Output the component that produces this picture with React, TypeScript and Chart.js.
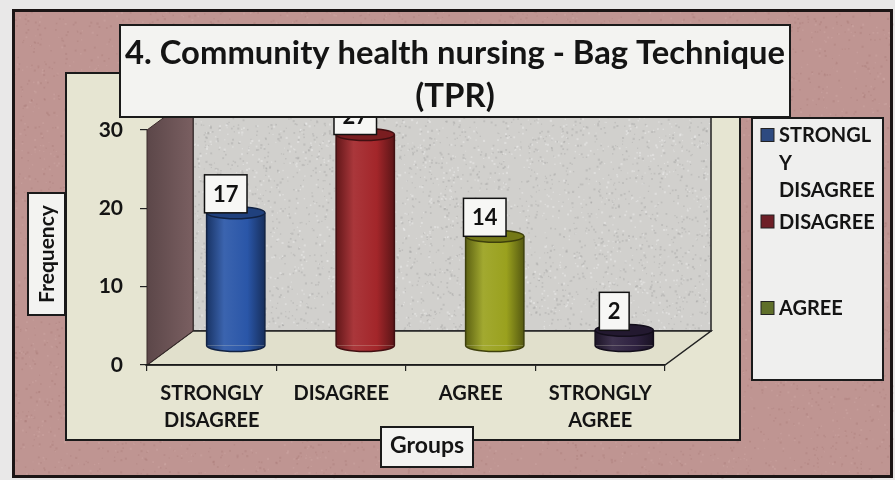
import React, { useEffect, useRef } from 'react';
import { Chart, registerables } from 'chart.js';

Chart.register(...registerables);

// ---------- data ----------
const CATEGORIES: string[][] = [['STRONGLY', 'DISAGREE'], ['DISAGREE'], ['AGREE'], ['STRONGLY', 'AGREE']];
const VALUES: number[] = [17, 27, 14, 2];
const BAR_COLORS: string[] = ['#2a56a8', '#a3262a', '#9aa11e', '#2e2140'];
const Y_MIN = 0;
const Y_MAX = 30;
const Y_STEP = 10;
const LEGEND_LABELS: string[][] = [['STRONGL', 'Y', 'DISAGREE'], ['DISAGREE'], ['AGREE']];
const LEGEND_COLORS: string[] = ['#2e4a80', '#6e1f27', '#5f6f2a'];
const TITLE_LINES: string[] = ['4. Community health nursing - Bag Technique', '(TPR)'];
const Y_TITLE = 'Frequency';
const X_TITLE = 'Groups';

const FONT = 'Lato, "Open Sans", "DejaVu Sans", sans-serif';

function shade(hex: string, f: number): string {
  const n = parseInt(hex.slice(1), 16);
  let r = (n >> 16) & 255, g = (n >> 8) & 255, b = n & 255;
  const t = f < 0 ? 0 : 255;
  const p = Math.abs(f);
  r = Math.round(r + (t - r) * p);
  g = Math.round(g + (t - g) * p);
  b = Math.round(b + (t - b) * p);
  return `rgb(${r},${g},${b})`;
}

function speckle(ctx: CanvasRenderingContext2D, x: number, y: number, w: number, h: number, n: number, color: string, seed: number) {
  let s = seed;
  const rnd = () => {
    s = (s * 1103515245 + 12345) & 0x7fffffff;
    return s / 0x7fffffff;
  };
  ctx.fillStyle = color;
  for (let i = 0; i < n; i++) {
    const px = x + rnd() * w;
    const py = y + rnd() * h;
    const sz = 1 + rnd() * 1.2;
    ctx.fillRect(px, py, sz, sz);
  }
}

const DEPTH = { x: 46, y: -34 };
const SHIFT = { x: 24, y: -19 };
const RY = 6;

const decorPlugin = {
  id: 'decor',
  beforeDraw(chart: any) {
    const { ctx, chartArea: a } = chart;
    const ys = chart.scales.y;
    const top = ys.getPixelForValue(Y_MAX);
    const bot = ys.getPixelForValue(Y_MIN);
    const L = a.left, R = a.right;
    ctx.save();
    ctx.fillStyle = '#e9e8e8';
    ctx.fillRect(0, 0, chart.width, chart.height);
    ctx.fillStyle = '#bf9592';
    ctx.fillRect(13, 10, 879, 467);
    speckle(ctx, 13, 10, 879, 467, 5000, 'rgba(160,110,108,0.25)', 7);
    speckle(ctx, 13, 10, 879, 467, 3000, 'rgba(220,185,180,0.25)', 11);
    ctx.lineWidth = 3;
    ctx.strokeStyle = '#1b1515';
    ctx.strokeRect(13.5, 10.5, 878, 466);

    // plot area box
    ctx.fillStyle = '#e6e5d2';
    ctx.fillRect(66, 73, 674, 367);
    ctx.lineWidth = 2;
    ctx.strokeStyle = '#1a1a1a';
    ctx.strokeRect(66, 73, 674, 367);

    // back wall
    ctx.fillStyle = '#d1d0cd';
    ctx.fillRect(L + DEPTH.x, top + DEPTH.y, R - L, bot - top);
    speckle(ctx, L + DEPTH.x, top + DEPTH.y, R - L, bot - top, 2500, 'rgba(150,150,150,0.3)', 3);
    speckle(ctx, L + DEPTH.x, top + DEPTH.y, R - L, bot - top, 1500, 'rgba(240,240,240,0.45)', 5);
    ctx.lineWidth = 1.5;
    ctx.strokeStyle = '#222';
    ctx.strokeRect(L + DEPTH.x, top + DEPTH.y, R - L, bot - top);

    // floor
    ctx.beginPath();
    ctx.moveTo(L, bot);
    ctx.lineTo(R, bot);
    ctx.lineTo(R + DEPTH.x, bot + DEPTH.y);
    ctx.lineTo(L + DEPTH.x, bot + DEPTH.y);
    ctx.closePath();
    ctx.fillStyle = '#e1e0cc';
    ctx.fill();
    ctx.stroke();

    // left wall
    ctx.beginPath();
    ctx.moveTo(L, bot);
    ctx.lineTo(L + DEPTH.x, bot + DEPTH.y);
    ctx.lineTo(L + DEPTH.x, top + DEPTH.y);
    ctx.lineTo(L, top);
    ctx.closePath();
    const g = ctx.createLinearGradient(L, 0, L + DEPTH.x, 0);
    g.addColorStop(0, '#5c4749');
    g.addColorStop(1, '#7a5f61');
    ctx.fillStyle = g;
    ctx.fill();
    ctx.strokeStyle = '#3a2a2a';
    ctx.lineWidth = 1;
    ctx.stroke();
    ctx.restore();
  },
  beforeDatasetsDraw(chart: any) {
    chart.ctx.save();
    chart.ctx.translate(SHIFT.x, SHIFT.y);
  },
  afterDatasetsDraw(chart: any) {
    const ctx = chart.ctx;
    const meta = chart.getDatasetMeta(0);
    meta.data.forEach((el: any, i: number) => {
      const { x, y, base, width } = el.getProps(['x', 'y', 'base', 'width'], true);
      const col = BAR_COLORS[i];
      const rx = width / 2;
      ctx.beginPath();
      ctx.ellipse(x, base, rx, RY, 0, 0, Math.PI);
      ctx.fillStyle = el.options.backgroundColor;
      ctx.fill();
      ctx.beginPath();
      ctx.ellipse(x, y, rx, RY, 0, 0, Math.PI * 2);
      ctx.fillStyle = shade(col, -0.25);
      ctx.fill();
      ctx.strokeStyle = shade(col, -0.6);
      ctx.lineWidth = 1.5;
      ctx.beginPath();
      ctx.moveTo(x - rx, y);
      ctx.lineTo(x - rx, base);
      ctx.ellipse(x, base, rx, RY, 0, Math.PI, 0, true);
      ctx.lineTo(x + rx, y);
      ctx.stroke();
      ctx.beginPath();
      ctx.ellipse(x, y, rx, RY, 0, 0, Math.PI * 2);
      ctx.stroke();

      const txt = String(VALUES[i]);
      ctx.font = `bold 22px ${FONT}`;
      const tw = ctx.measureText(txt).width;
      const bw = Math.max(29, tw + 17);
      const bh = 38;
      const bx = x - 10 - bw / 2;
      const by = y - bh;
      ctx.fillStyle = '#f7f7f5';
      ctx.fillRect(bx, by, bw, bh);
      ctx.strokeStyle = '#111';
      ctx.lineWidth = 1.5;
      ctx.strokeRect(bx, by, bw, bh);
      ctx.fillStyle = '#111';
      ctx.textAlign = 'center';
      ctx.textBaseline = 'middle';
      ctx.fillText(txt, x - 10, by + bh / 2 + 1);
    });
    ctx.restore();
  },
  afterDraw(chart: any) {
    const ctx = chart.ctx;
    ctx.save();
    ctx.fillStyle = '#f3f3f1';
    ctx.fillRect(120, 25, 670, 92);
    ctx.lineWidth = 2;
    ctx.strokeStyle = '#1a1a1a';
    ctx.strokeRect(120, 25, 670, 92);
    ctx.fillStyle = '#141414';
    ctx.textAlign = 'center';
    ctx.textBaseline = 'alphabetic';
    ctx.font = `bold 33px ${FONT}`;
    ctx.fillText(TITLE_LINES[0], 455, 64, 660);
    ctx.fillText(TITLE_LINES[1], 455, 107, 660);

    ctx.fillStyle = '#efefee';
    ctx.fillRect(752, 118, 131, 262);
    ctx.strokeRect(752, 118, 131, 262);
    ctx.font = `bold 20px ${FONT}`;
    ctx.textAlign = 'left';
    ctx.textBaseline = 'middle';
    LEGEND_LABELS.forEach((lines, i) => {
      const y0 = 135 + i * 86.5;
      ctx.fillStyle = LEGEND_COLORS[i];
      ctx.fillRect(761, y0 - 6.5, 13, 13);
      ctx.strokeStyle = '#222';
      ctx.lineWidth = 1;
      ctx.strokeRect(761, y0 - 6.5, 13, 13);
      ctx.fillStyle = '#141414';
      lines.forEach((ln, j) => {
        ctx.fillText(ln, 779, y0 + j * 27.5 + 1, 97);
      });
    });

    ctx.fillStyle = '#f3f3f1';
    ctx.fillRect(28, 193, 37, 122);
    ctx.lineWidth = 2;
    ctx.strokeStyle = '#1a1a1a';
    ctx.strokeRect(28, 193, 37, 122);
    ctx.save();
    ctx.translate(47, 254);
    ctx.rotate(-Math.PI / 2);
    ctx.fillStyle = '#141414';
    ctx.textAlign = 'center';
    ctx.textBaseline = 'middle';
    ctx.font = `bold 21px ${FONT}`;
    ctx.fillText(Y_TITLE, 0, 0);
    ctx.restore();

    ctx.fillStyle = '#f3f3f1';
    ctx.fillRect(381, 427, 92, 40);
    ctx.strokeRect(381, 427, 92, 40);
    ctx.fillStyle = '#141414';
    ctx.textAlign = 'center';
    ctx.textBaseline = 'middle';
    ctx.font = `bold 23px ${FONT}`;
    ctx.fillText(X_TITLE, 427, 446);
    ctx.restore();
  },
};

export default function App() {
  const ref = useRef<HTMLCanvasElement | null>(null);
  useEffect(() => {
    if (!ref.current) return;
    const chart = new Chart(ref.current, {
      type: 'bar',
      data: {
        labels: CATEGORIES as any,
        datasets: [
          {
            data: VALUES,
            categoryPercentage: 1,
            barPercentage: 0.45,
            borderWidth: 0,
            clip: false as any,
            backgroundColor: (c: any) => {
              const i = c.dataIndex;
              const col = BAR_COLORS[i] || BAR_COLORS[0];
              const chart = c.chart;
              const xs = chart.scales && chart.scales.x;
              if (i === undefined || !chart.chartArea || !xs) return col;
              const cx = xs.getPixelForValue(i);
              const w = (xs.width / CATEGORIES.length) * 0.45;
              const g = chart.ctx.createLinearGradient(cx - w / 2, 0, cx + w / 2, 0);
              g.addColorStop(0, shade(col, -0.4));
              g.addColorStop(0.3, shade(col, 0.08));
              g.addColorStop(0.7, col);
              g.addColorStop(1, shade(col, -0.45));
              return g;
            },
          },
        ],
      },
      options: {
        animation: false,
        responsive: false,
        devicePixelRatio: 1,
        layout: { autoPadding: false, padding: { left: 0, top: 130, right: 230, bottom: 0 } },
        plugins: {
          legend: { display: false },
          title: { display: false },
          tooltip: { enabled: false },
        },
        scales: {
          x: {
            afterFit: (s: any) => {
              s.height = 115;
            },
            grid: { drawOnChartArea: false, offset: true, tickLength: 6, color: '#222', lineWidth: 1.2 },
            border: { display: true, color: '#1a1a1a', width: 1.5 },
            ticks: {
              autoSkip: false,
              maxRotation: 0,
              padding: 9,
              color: '#141414',
              font: { family: FONT, size: 20, weight: 'bold', lineHeight: 1.35 },
            },
          },
          y: {
            min: Y_MIN,
            max: Y_MAX,
            afterFit: (s: any) => {
              s.width = 147;
            },
            grid: { drawOnChartArea: false, tickLength: 7, color: '#222', lineWidth: 1.2 },
            border: { display: false },
            ticks: {
              stepSize: Y_STEP,
              padding: 17,
              color: '#141414',
              font: { family: FONT, size: 21, weight: 'bold' },
            },
          },
        },
      },
      plugins: [decorPlugin],
    });
    return () => chart.destroy();
  }, []);
  return (
    <div style={{ position: 'fixed', left: 0, top: 0, width: 895, height: 480 }}>
      <canvas ref={ref} width={895} height={480} style={{ display: 'block' }} />
    </div>
  );
}
